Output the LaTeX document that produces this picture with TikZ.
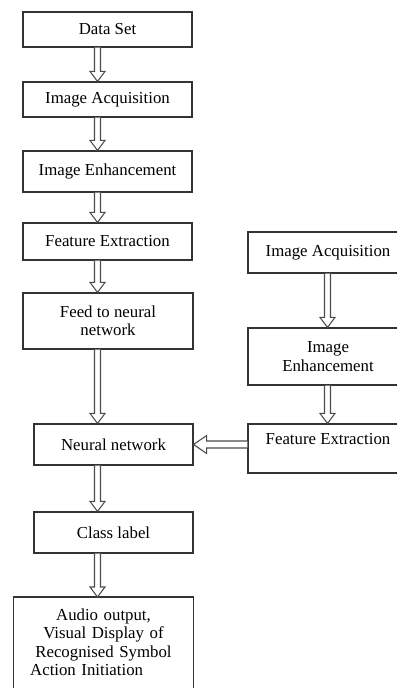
\documentclass[tikz,border=0pt]{standalone}
\usepackage{fontspec}
\setmainfont{Liberation Serif}
\usetikzlibrary{calc}

\tikzset{
  box/.style={draw=black!80, line width=0.9pt, fill=white, align=center, inner sep=2pt,
    font=\fontsize{12.6}{13.75}\selectfont},
  boxline/.style={draw=black!80, line width=0.9pt},
  arrowline/.style={draw=black!70, line width=0.8pt, fill=white, line join=miter},
}

% hollow arrow pointing down, from #1 to the tip #2
\newcommand{\hollowdown}[2]{%
  \draw[arrowline] ($(#1)+(-3,0)$) -- ($(#2)+(-3,-10)$) -- ($(#2)+(-7.5,-10)$) -- (#2)
    -- ($(#2)+(7.5,-10)$) -- ($(#2)+(3,-10)$) -- ($(#1)+(3,0)$);}
% hollow arrow pointing left, from #1 to the tip #2
\newcommand{\hollowleft}[2]{%
  \draw[arrowline] ($(#1)+(0,-3.5)$) -- ($(#2)+(13,-3.5)$) -- ($(#2)+(13,-9)$) -- (#2)
    -- ($(#2)+(13,9)$) -- ($(#2)+(13,3.5)$) -- ($(#1)+(0,3.5)$);}

\begin{document}
\begin{tikzpicture}[x=0.75pt, y=-0.75pt]
  \fill[white] (0,0) rectangle (396,688);
  \useasboundingbox (0,0) rectangle (396,688);

  \coordinate (lx) at (97.5,0);
  \coordinate (rx) at (327.5,0);

  % left column
  \node[box, minimum width=126.75pt, minimum height=26.25pt] (ds) at (107.5,29.5) {Data Set};
  \node[box, minimum width=126.75pt, minimum height=26.25pt] (acq) at (107.5,99.5) {Image Acquisition};
  \node[box, minimum width=126.75pt, minimum height=30.75pt] (enh) at (107.5,171.5) {Image Enhancement};
  \node[box, minimum width=126.75pt, minimum height=27.75pt] (fe) at (107.5,241.5) {Feature Extraction};
  \node[box, minimum width=127.5pt, minimum height=42pt] (feed) at (108,321) {Feed to neural\\network};
  \node[box, minimum width=119.25pt, minimum height=30.75pt] (nn) at (113.5,444.5) {Neural network};
  \node[box, minimum width=119.25pt, minimum height=30.75pt] (cls) at (113.5,532.5) {Class label};
  \node[box, draw=none, anchor=north, text width=127pt, inner xsep=3.4pt, inner ysep=8.5pt] (out) at (103.5,597)
    {Audio output,\\Visual Display of\\Recognised Symbol\\\makebox[110pt][l]{Action Initiation}};
  \draw[boxline] (out.north west |- 0,700) -- (out.north west) -- (out.north east) -- (out.north east |- 0,700);

  % right column
  \node[box, minimum width=120pt, minimum height=30.75pt] (acqR) at (328,252.5) {Image Acquisition};
  \node[box, minimum width=120pt, minimum height=42.75pt] (enhR) at (328,356.5) {Image\\Enhancement};
  \node[box, minimum width=120pt, minimum height=36.75pt, text depth=14pt] (feR) at (328,448.5) {Feature Extraction};

  % arrows
  \hollowdown{ds.south -| lx}{acq.north -| lx}
  \hollowdown{acq.south -| lx}{enh.north -| lx}
  \hollowdown{enh.south -| lx}{fe.north -| lx}
  \hollowdown{fe.south -| lx}{feed.north -| lx}
  \hollowdown{feed.south -| lx}{nn.north -| lx}
  \hollowdown{nn.south -| lx}{cls.north -| lx}
  \hollowdown{cls.south -| lx}{out.north -| lx}
  \hollowdown{acqR.south -| rx}{enhR.north -| rx}
  \hollowdown{enhR.south -| rx}{feR.north -| rx}
  \hollowleft{feR.west |- nn.east}{nn.east}
\end{tikzpicture}
\end{document}
